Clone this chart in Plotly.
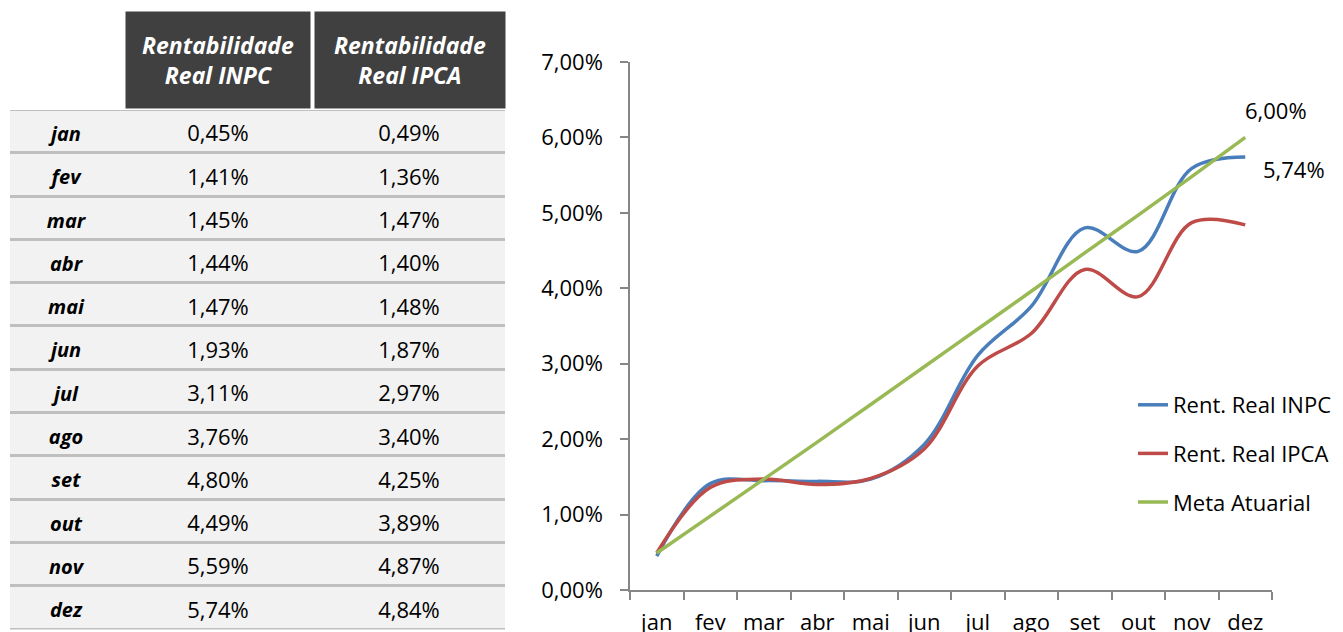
import plotly.graph_objects as go

# ---------------- data ----------------
months = ["jan", "fev", "mar", "abr", "mai", "jun", "jul", "ago", "set", "out", "nov", "dez"]
rent_inpc = [0.45, 1.41, 1.45, 1.44, 1.47, 1.93, 3.11, 3.76, 4.80, 4.49, 5.59, 5.74]
rent_ipca = [0.49, 1.36, 1.47, 1.40, 1.48, 1.87, 2.97, 3.40, 4.25, 3.89, 4.87, 4.84]
meta_atuarial = [0.49, 0.98, 1.47, 1.96, 2.46, 2.96, 3.46, 3.96, 4.47, 4.97, 5.48, 6.00]
header_inpc = "Rentabilidade<br>Real INPC"
header_ipca = "Rentabilidade<br>Real IPCA"
series_names = ["Rent. Real INPC", "Rent. Real IPCA", "Meta Atuarial"]
y_ticks = [0, 1, 2, 3, 4, 5, 6, 7]

# ---------------- styling / layout constants ----------------
W, H = 1343, 632
FONT = "Open Sans"
BLUE, RED, GREEN = "#4a7ebb", "#be4b48", "#98b954"
AXIS_GRAY = "#868686"
DARK = "#404040"
ROW_BG = "#f2f2f2"
SEP = "#bfbfbf"

def pct(v):
    return f"{v:.2f}".replace(".", ",") + "%"

def px_x(p):
    return p / W

def px_y(p):
    return 1 - p / H

fig = go.Figure()

# ---------------- table (left) ----------------
TABLE_W = 495  # xaxis2 units = pixels across the table
COL_MONTH, COL_INPC, COL_IPCA = 56, 208, 399
TEXT_NUDGE = 0.1  # shift of text rows (in row units) so glyphs sit like the reference

# gray underlay (separator colour)
fig.add_trace(go.Heatmap(
    x=[0, TABLE_W], y=months, z=[[1] for _ in months],
    colorscale=[[0, SEP], [1, SEP]], showscale=False, hoverinfo="skip",
    xaxis="x2", yaxis="y2"))
# light row backgrounds with gaps showing separators
fig.add_trace(go.Heatmap(
    x=[0, TABLE_W], y=months, z=[[1] for _ in months],
    colorscale=[[0, ROW_BG], [1, ROW_BG]], showscale=False, hoverinfo="skip",
    ygap=3, xaxis="x2", yaxis="y2"))

fig.add_trace(go.Scatter(
    x=[COL_MONTH] * len(months), y=months, mode="text",
    text=[f"<b><i>{m}</i></b>" for m in months],
    textfont=dict(family=FONT, size=20, color="#000000"),
    hoverinfo="skip", showlegend=False, xaxis="x2", yaxis="y3"))
fig.add_trace(go.Scatter(
    x=[COL_INPC] * len(months), y=months, mode="text",
    text=[pct(v) for v in rent_inpc],
    textfont=dict(family=FONT, size=22, color="#000000"),
    hoverinfo="skip", showlegend=False, xaxis="x2", yaxis="y3"))
fig.add_trace(go.Scatter(
    x=[COL_IPCA] * len(months), y=months, mode="text",
    text=[pct(v) for v in rent_ipca],
    textfont=dict(family=FONT, size=22, color="#000000"),
    hoverinfo="skip", showlegend=False, xaxis="x2", yaxis="y3"))

# ---------------- line chart (right) ----------------
for vals, name, color, grp in [
    (rent_inpc, series_names[0], BLUE, "g1"),
    (rent_ipca, series_names[1], RED, "g2"),
    (meta_atuarial, series_names[2], GREEN, "g3"),
]:
    fig.add_trace(go.Scatter(
        x=months, y=vals, name=name, mode="lines",
        line=dict(color=color, width=3.5, shape="spline", smoothing=1),
        legendgroup=grp, hoverinfo="skip"))

annotations = [
    dict(x=COL_INPC, y=px_y(60), xref="x2", yref="paper",
         text=f"<b><i>{header_inpc}</i></b>", showarrow=False,
         width=184, height=96, bgcolor=DARK, borderpad=0,
         font=dict(family=FONT, size=23, color="#ffffff"),
         xanchor="center", yanchor="middle"),
    dict(x=COL_IPCA + 1, y=px_y(60), xref="x2", yref="paper",
         text=f"<b><i>{header_ipca}</i></b>", showarrow=False,
         width=190, height=96, bgcolor=DARK, borderpad=0,
         font=dict(family=FONT, size=23, color="#ffffff"),
         xanchor="center", yanchor="middle"),
    dict(x=months[-1], y=meta_atuarial[-1], xref="x", yref="y",
         text=pct(meta_atuarial[-1]), showarrow=False,
         xshift=31, yshift=27, font=dict(family=FONT, size=22, color="#000000")),
    dict(x=months[-1], y=rent_inpc[-1], xref="x", yref="y",
         text=pct(rent_inpc[-1]), showarrow=False,
         xshift=49, yshift=-12, font=dict(family=FONT, size=22, color="#000000")),
]

fig.update_layout(
    width=W, height=H,
    margin=dict(l=0, r=0, t=0, b=0),
    paper_bgcolor="#ffffff", plot_bgcolor="rgba(0,0,0,0)",
    font=dict(family=FONT, size=22, color="#000000"),
    separators=",.",
    showlegend=True,
    legend=dict(x=px_x(1133), y=px_y(384), xanchor="left", yanchor="top",
                font=dict(family=FONT, size=22, color="#000000"),
                bgcolor="rgba(0,0,0,0)", tracegroupgap=17),
    annotations=annotations,
    xaxis=dict(domain=[px_x(630), px_x(1272)], type="category",
               categoryorder="array", categoryarray=months,
               range=[-0.5, 11.5], showgrid=False, zeroline=False,
               showline=True, linecolor=AXIS_GRAY, linewidth=1.5,
               ticks="outside", ticklen=8, tickcolor=AXIS_GRAY, tickwidth=1.5,
               tickson="boundaries", ticklabelstandoff=12,
               tickfont=dict(family=FONT, size=22, color="#000000"),
               automargin=False, anchor="y"),
    yaxis=dict(domain=[px_y(590), px_y(62)], range=[0, 7],
               tickvals=y_ticks, ticktext=[pct(v) for v in y_ticks],
               showgrid=False, zeroline=False,
               showline=True, linecolor=AXIS_GRAY, linewidth=1.5,
               ticks="outside", ticklen=8, tickcolor=AXIS_GRAY, tickwidth=1.5,
               ticklabelstandoff=13,
               tickfont=dict(family=FONT, size=22, color="#000000"),
               automargin=False, anchor="x"),
    xaxis2=dict(domain=[px_x(10), px_x(505)], range=[0, TABLE_W],
                visible=False, anchor="y2", fixedrange=True),
    yaxis2=dict(domain=[px_y(629.5), px_y(110)], type="category",
                categoryorder="array", categoryarray=months,
                range=[11.5, -0.5], visible=False, anchor="x2", fixedrange=True),
    yaxis3=dict(domain=[px_y(629.5), px_y(110)], type="category",
                categoryorder="array", categoryarray=months,
                range=[11.5 - TEXT_NUDGE, -0.5 - TEXT_NUDGE],
                visible=False, anchor="x2", overlaying="y2", fixedrange=True),
)

fig.write_html("out.html", config={"displayModeBar": False},
               post_script="document.body.style.margin='0px';document.body.style.padding='0px';")
